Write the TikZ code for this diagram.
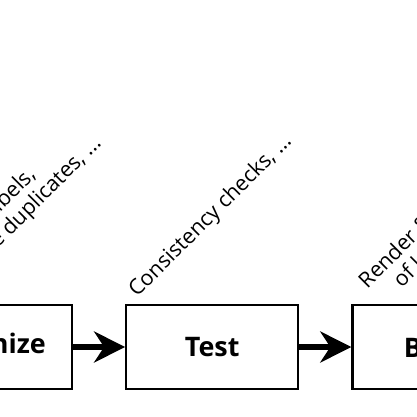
\documentclass[tikz,border=0pt]{standalone}
\usepackage{fontspec}
\setmainfont{Open Sans}
\usetikzlibrary{positioning}
\usetikzlibrary{arrows.meta}

\tikzset{
  stage/.style={draw, line width=2.2bp, minimum width=172bp, minimum height=84bp,
    inner sep=0pt, font=\fontsize{27}{30}\selectfont\bfseries},
  note/.style={rotate=45, inner sep=0pt, font=\fontsize{21.5}{24}\selectfont},
  flow/.style={line width=5.5bp, -{Stealth[length=31bp, width=31bp, inset=10bp]}}
}

\begin{document}
\begin{tikzpicture}[x=1bp,y=-1bp]
      \useasboundingbox (0,0) rectangle (417,417);
      \clip (0,0) rectangle (417,417);

      \node[stage] (organize) at (-14,347) {Organize};
      \node[stage, right=52bp of organize] (test) {Test};
      \node[stage, right=52bp of test] (build) {Build};

      \draw[flow] (organize) -- (test);
      \draw[flow] (test) -- (build);

      % notes above the stages
      \node[note, align=left, anchor=south east] (organizenote) at (106,148) {Correct labels,\\remove duplicates, ...};
      \node[note, anchor=base west] (testnote) at (137,298) {Consistency checks, ...};
      \node[note, align=center, anchor=south west] (buildnote) at (388,310) {Render \& visualize\\of knowledge};
    \end{tikzpicture}
\end{document}
